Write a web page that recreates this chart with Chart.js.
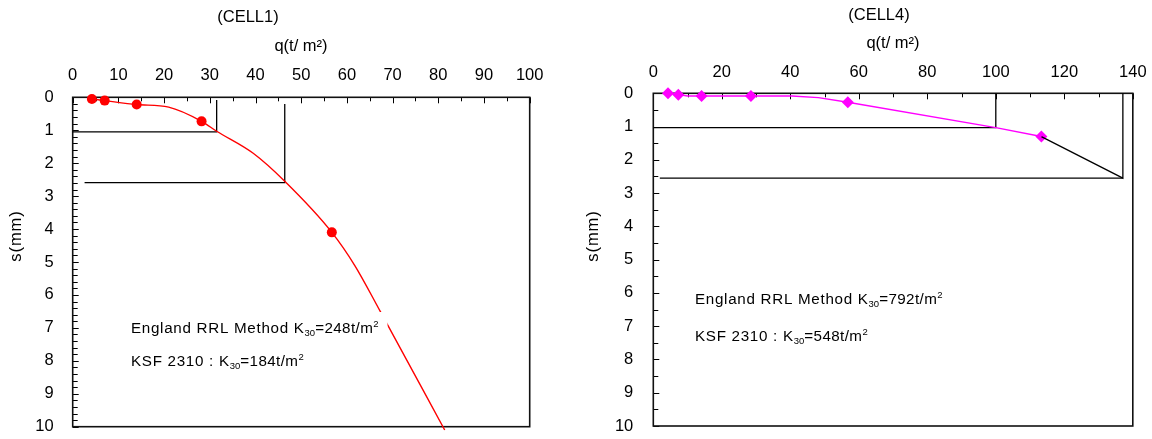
<!DOCTYPE html>
<html>
<head>
<meta charset="utf-8">
<script src="https://cdn.jsdelivr.net/npm/chart.js@4.4.0/dist/chart.umd.min.js"></script>
<style>
  body { margin: 0; background: #fff; width: 1152px; height: 439px; overflow: hidden; position: relative; }
  canvas { position: absolute; top: 0; }
  #cell1 { left: 0; }
  #cell4 { left: 576px; }
</style>
</head>
<body>
<canvas id="cell1" width="576" height="439"></canvas>
<canvas id="cell4" width="576" height="439"></canvas>
<script>
// ---- CELL1 ----
var q1Points = [4.2, 7, 14, 28.2, 56.7];
var s1Points = [0.05, 0.1, 0.22, 0.73, 4.1];
var q1Curve = [4.2, 7, 14, 21, 28.2, 31.5, 39.5, 46.4, 56.7, 61.7, 67.3, 81.4];
var s1Curve = [0.05, 0.1, 0.22, 0.3, 0.73, 1.03, 1.7, 2.55, 4.1, 5.1, 6.5, 10.1];
var q1LineA = [0, 31.5, 31.5];
var s1LineA = [1.05, 1.05, 0.08];
var q1LineB = [2.6, 46.4, 46.4];
var s1LineB = [2.59, 2.59, 0.2];
var q1TickLabels = [0, 10, 20, 30, 40, 50, 60, 70, 80, 90, 100];

// ---- CELL4 ----
var q4Points = [4.3, 7.3, 14.1, 28.5, 56.8, 113.3];
var s4Points = [0, 0.04, 0.08, 0.08, 0.27, 1.3];
var q4Curve = [4.3, 7.3, 10, 14.1, 28.5, 40.5, 48.2, 56.8, 100, 113.3];
var s4Curve = [0, 0.04, 0.08, 0.08, 0.08, 0.08, 0.13, 0.27, 1.03, 1.3];
var q4LineA = [0, 100, 100];
var s4LineA = [1.03, 1.03, 0];
var q4LineB = [113.3, 137.1, 137.1];
var s4LineB = [1.3, 2.55, 0];
var q4LineC = [1.9, 137.1];
var s4LineC = [2.55, 2.55];
var q4TickLabels = [0, 20, 40, 60, 80, 100, 120, 140];

var sTickLabels = [0, 1, 2, 3, 4, 5, 6, 7, 8, 9, 10];

var FONT = "'Liberation Sans', Arial, sans-serif";
Chart.defaults.font.family = FONT;
Chart.defaults.color = '#000';

function pairs(xs, ys) {
  return xs.map(function (x, i) { return { x: x, y: ys[i] }; });
}

function inList(v, list) {
  for (var i = 0; i < list.length; i++) if (Math.abs(list[i] - v) < 1e-6) return true;
  return false;
}

function blackLine(xs, ys) {
  return { data: pairs(xs, ys), showLine: true, borderColor: '#000', borderWidth: 1.3,
           pointRadius: 0, fill: false, tension: 0, clip: false };
}

// rich text: parts with sub/superscripts
function drawRich(ctx, x, y, parts, box) {
  ctx.save();
  ctx.textBaseline = 'alphabetic';
  ctx.textAlign = 'left';
  var w = 0;
  parts.forEach(function (p) {
    ctx.font = p.size + 'px ' + FONT;
    ctx.letterSpacing = (p.ls || 0) + 'px';
    w += ctx.measureText(p.t).width;
  });
  if (box) {
    ctx.fillStyle = '#fff';
    ctx.fillRect(x - 5, y - 21, w + 14, 29);
  }
  ctx.fillStyle = '#000';
  var cx = x;
  parts.forEach(function (p) {
    ctx.font = p.size + 'px ' + FONT;
    ctx.letterSpacing = (p.ls || 0) + 'px';
    ctx.fillText(p.t, cx, y + (p.dy || 0));
    cx += ctx.measureText(p.t).width;
  });
  ctx.restore();
}

function kText(pre, val) {
  return [
    { t: pre + 'K', size: 15.2, ls: 0.7 },
    { t: '30', size: 9.5, dy: 3 },
    { t: '=' + val + 't/m', size: 15.2, ls: 0.4 },
    { t: '2', size: 9.5, dy: -6 }
  ];
}

var deco = {
  id: 'deco',
  beforeDatasetsDraw: function (chart, args, o) {
    var ctx = chart.ctx, a = chart.chartArea;
    var xs = chart.scales.x, ys = chart.scales.y;
    ctx.save();
    ctx.strokeStyle = '#000';
    ctx.lineWidth = 1;
    ctx.beginPath();
    xs.ticks.forEach(function (t) {
      var px = Math.round(xs.getPixelForValue(t.value)) + 0.5;
      var len = t.label !== '' ? 6 : 4;
      ctx.moveTo(px, a.top); ctx.lineTo(px, a.top + len);
    });
    ys.ticks.forEach(function (t) {
      var py = Math.round(ys.getPixelForValue(t.value)) + 0.5;
      var len = t.label !== '' ? 6 : 5;
      ctx.moveTo(a.left, py); ctx.lineTo(a.left + len, py);
    });
    ctx.stroke();
    ctx.lineWidth = 1.6;
    ctx.strokeStyle = '#111';
    ctx.strokeRect(a.left, a.top, a.right - a.left, a.bottom - a.top);
    ctx.restore();
  },
  afterDatasetsDraw: function (chart, args, o) {
    var ctx = chart.ctx;
    (o.notes || []).forEach(function (n) {
      drawRich(ctx, n.x, n.y, n.parts, n.box);
    });
  },
  afterDraw: function (chart, args, o) {
    var ctx = chart.ctx;
    (o.titles || []).forEach(function (t) {
      ctx.save();
      ctx.font = t.size + 'px ' + FONT;
      ctx.letterSpacing = (t.ls || 0) + 'px';
      ctx.fillStyle = '#000';
      ctx.textAlign = 'center';
      ctx.textBaseline = 'middle';
      ctx.translate(t.x, t.y);
      if (t.rot) ctx.rotate(t.rot);
      ctx.fillText(t.text, 0, 0);
      ctx.restore();
    });
  }
};

function makeChart(id, cfg) {
  return new Chart(document.getElementById(id), {
    type: 'scatter',
    data: { datasets: cfg.datasets },
    options: {
      responsive: false,
      animation: false,
      devicePixelRatio: 1,
      layout: { padding: cfg.padding },
      plugins: {
        legend: { display: false },
        tooltip: { enabled: false },
        deco: { titles: cfg.titles, notes: cfg.notes }
      },
      scales: {
        x: {
          type: 'linear', position: 'top', min: 0, max: cfg.xMax,
          grid: { display: false, drawTicks: false }, border: { display: false },
          afterFit: function (s) {
            s.height = cfg.top;
            s.paddingLeft = 0; s.paddingRight = 0;
          },
          afterBuildTicks: function (s) {
            var t = [];
            for (var v = 0; v <= cfg.xMax + 1e-6; v += cfg.xStep) t.push({ value: v });
            s.ticks = t;
          },
          ticks: {
            autoSkip: false, maxRotation: 0, padding: cfg.xPad,
            font: { size: 16.5 },
            callback: function (v) { return inList(v, cfg.xLabels) ? String(v) : ''; }
          }
        },
        y: {
          type: 'linear', reverse: true, min: 0, max: 10,
          grid: { display: false, drawTicks: false }, border: { display: false },
          afterFit: function (s) {
            s.width = cfg.left;
            s.paddingTop = 0; s.paddingBottom = 0;
          },
          afterBuildTicks: function (s) {
            var t = [];
            for (var i = 0; i <= 10 / cfg.yStep + 1e-6; i++) t.push({ value: Math.round(i * cfg.yStep * 100) / 100 });
            s.ticks = t;
          },
          ticks: {
            autoSkip: false, padding: cfg.yPad,
            font: { size: 16.5 },
            callback: function (v) { return inList(v, sTickLabels) ? String(v) : ''; }
          }
        }
      }
    },
    plugins: [deco]
  });
}

makeChart('cell1', {
  xMax: 100, xStep: 5, yStep: 0.2, xLabels: q1TickLabels,
  left: 72.7, top: 97.3, padding: { left: 0, top: 0, right: 46.3, bottom: 12.3 },
  xPad: 12, yPad: 19,
  titles: [
    { text: '(CELL1)', x: 248, y: 17, size: 16.5 },
    { text: 'q(t/ m\u00b2)', x: 301, y: 46, size: 16.5 },
    { text: 's(mm)', x: 16, y: 236, size: 16.5, ls: 1, rot: -Math.PI / 2 }
  ],
  notes: [
    { x: 131, y: 333, parts: kText('England RRL Method ', '248'), box: true },
    { x: 131, y: 366, parts: kText('KSF 2310 : ', '184'), box: false }
  ],
  datasets: [
    { data: pairs(q1Curve, s1Curve), showLine: true, borderColor: '#ff0000', borderWidth: 1.4,
      pointRadius: 0, cubicInterpolationMode: 'monotone', clip: false },
    blackLine(q1LineA, s1LineA),
    blackLine(q1LineB, s1LineB),
    { data: pairs(q1Points, s1Points), showLine: false, pointRadius: 5, pointStyle: 'circle',
      backgroundColor: '#ff0000', borderColor: '#ff0000', borderWidth: 0, clip: false }
  ]
});

makeChart('cell4', {
  xMax: 140, xStep: 10, yStep: 0.5, xLabels: q4TickLabels,
  left: 77.3, top: 93.3, padding: { left: 0, top: 0, right: 19.2, bottom: 13 },
  xPad: 10.5, yPad: 20,
  titles: [
    { text: '(CELL4)', x: 303, y: 15, size: 16.5 },
    { text: 'q(t/ m\u00b2)', x: 317, y: 43, size: 16.5 },
    { text: 's(mm)', x: 17.5, y: 236, size: 16.5, ls: 1, rot: -Math.PI / 2 }
  ],
  notes: [
    { x: 119, y: 304, parts: kText('England RRL Method ', '792'), box: false },
    { x: 119, y: 341, parts: kText('KSF 2310 : ', '548'), box: false }
  ],
  datasets: [
    { data: pairs(q4Curve, s4Curve), showLine: true, borderColor: '#ff00ff', borderWidth: 1.4,
      pointRadius: 0, tension: 0, clip: false },
    blackLine(q4LineA, s4LineA),
    blackLine(q4LineB, s4LineB),
    blackLine(q4LineC, s4LineC),
    { data: pairs(q4Points, s4Points), showLine: false, pointRadius: 6, pointStyle: 'rectRot',
      backgroundColor: '#ff00ff', borderColor: '#ff00ff', borderWidth: 0, clip: false }
  ]
});
</script>
</body>
</html>
